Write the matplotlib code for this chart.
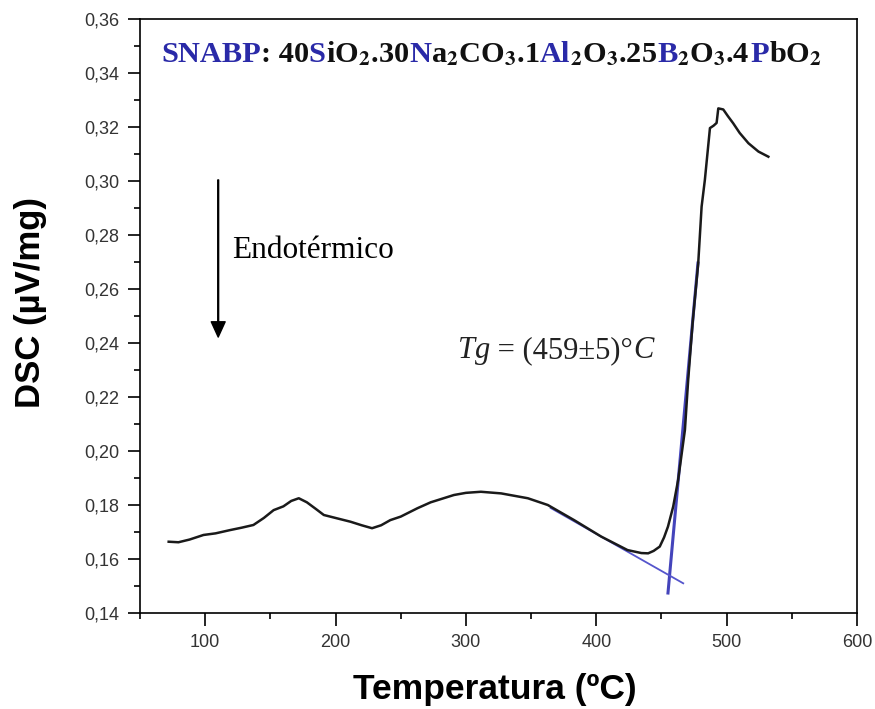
import matplotlib
matplotlib.use("Agg")
import matplotlib.pyplot as plt
from matplotlib.ticker import MultipleLocator, FuncFormatter
from matplotlib.transforms import IdentityTransform

plt.rcParams['mathtext.fontset'] = 'stix'

# DSC curve (temperature in C, signal in uV/mg)
temp = [72, 79.5, 88, 98.7, 108, 119, 128, 137, 145, 152.5, 160, 166, 171.8,
        178, 185, 191, 200, 211.5, 220, 228, 235, 242, 250, 262.8, 273, 290.8,
        300, 311.5, 327, 347.5, 362.8, 383, 403.8, 424, 434.6, 439.8, 444,
        448.7, 452, 455, 459, 462.8, 468, 470.5, 474, 478.2, 480.8, 483.3,
        487.2, 490, 492.3, 493.6, 497.4, 501, 505, 510, 516.7, 524.4, 532]
dsc = [0.1664, 0.1662, 0.1672, 0.1689, 0.1695, 0.1707, 0.1716, 0.1726, 0.1752,
       0.1781, 0.1795, 0.1815, 0.1825, 0.1810, 0.1785, 0.1763, 0.1752, 0.1738,
       0.1725, 0.1714, 0.1725, 0.1744, 0.1757, 0.1788, 0.1810, 0.1837, 0.1845,
       0.1849, 0.1843, 0.1825, 0.1800, 0.1744, 0.1683, 0.1633, 0.1622, 0.1621,
       0.1630, 0.1646, 0.1680, 0.1720, 0.1794, 0.1893, 0.2078, 0.2263, 0.2480,
       0.2695, 0.2905, 0.3004, 0.3196, 0.3205, 0.3215, 0.3269, 0.3265, 0.3240,
       0.3214, 0.3178, 0.3140, 0.3109, 0.3090]

# tangent lines used for Tg
base_x = [365, 466.7]
base_y = [0.1789, 0.1510]
step_x = [455, 478]
step_y = [0.1474, 0.2696]

tg_parts = [("Tg", 'italic'), (" = (459±5)°", 'normal'), ("C", 'italic')]
title_parts = [("SNABP", 'b'), (": 40", 'k'), ("S", 'b'), (r"iO$_\mathbf{2}$.30", 'k'),
               ("N", 'b'), (r"a$_\mathbf{2}$CO$_\mathbf{3}$.1", 'k'), ("Al", 'b'),
               (r"$_\mathbf{2}$O$_\mathbf{3}$.25", 'k'), ("B", 'b'),
               (r"$_\mathbf{2}$O$_\mathbf{3}$.4", 'k'), ("P", 'b'), (r"bO$_\mathbf{2}$", 'k')]

W, H = 875, 709
fig = plt.figure(figsize=(W / 100, H / 100), dpi=100)
ax = fig.add_axes([140 / W, 1 - 613 / H, (857 - 140) / W, (613 - 19) / H])

ax.plot(step_x, step_y, color='#4444bb', lw=2.2, zorder=2)
ax.plot(base_x, base_y, color='#5555cc', lw=1.3, zorder=2)
ax.plot(temp, dsc, color='#1a1a1a', lw=1.8, zorder=3)

ax.set_xlim(50, 600)
ax.set_ylim(0.14, 0.36)
ax.xaxis.set_major_locator(MultipleLocator(100))
ax.xaxis.set_minor_locator(MultipleLocator(50))
ax.yaxis.set_major_locator(MultipleLocator(0.02))
ax.yaxis.set_minor_locator(MultipleLocator(0.01))
ax.yaxis.set_major_formatter(FuncFormatter(lambda v, p: f"{v:.2f}".replace('.', ',')))
ax.tick_params(which='major', direction='out', length=9, width=1.2, pad=6,
               labelsize=13, labelcolor='#333333')
ax.tick_params(which='minor', direction='out', length=4, width=1.2)
for lab in ax.get_xticklabels() + ax.get_yticklabels():
    lab.set_family('Liberation Sans')
for sp in ax.spines.values():
    sp.set_linewidth(1.2)

fig.text(495 / W, 1 - 690 / H, 'Temperatura (ºC)', ha='center', va='center',
         fontsize=25.5, fontweight='bold', family='Liberation Sans')
fig.text(31 / W, 1 - 302 / H, 'DSC (µV/mg)', ha='center', va='center', rotation=90,
         fontsize=25, fontweight='bold', family='Liberation Sans')

# endothermic arrow
ax.annotate('', xy=(110, 0.2422), xytext=(110, 0.3004),
            arrowprops=dict(facecolor='black', edgecolor='black', width=0.6,
                            headwidth=10, headlength=11, shrink=0))
ax.text(120.8, 0.2741, 'Endotérmico', fontsize=22.5, family='Liberation Serif',
        va='center', ha='left')

renderer = fig.canvas.get_renderer()

# Tg annotation, italic symbol and unit around upright numbers
x = 458
for s, st in tg_parts:
    t = fig.text(x, H - 358, s, transform=IdentityTransform(), va='baseline', ha='left',
                 fontsize=22, fontstyle=st, family='Liberation Serif', color='#222222')
    x += t.get_window_extent(renderer).width

# multicoloured composition title, pieces laid side by side
x = 161
for s, c in title_parts:
    t = fig.text(x, H - 62, s, transform=IdentityTransform(), va='baseline', ha='left',
                 fontsize=21.9, fontweight='bold', family='Liberation Serif',
                 color='#2a2aa8' if c == 'b' else '#111111')
    x += t.get_window_extent(renderer).width

fig.savefig('out.png', dpi=100)
